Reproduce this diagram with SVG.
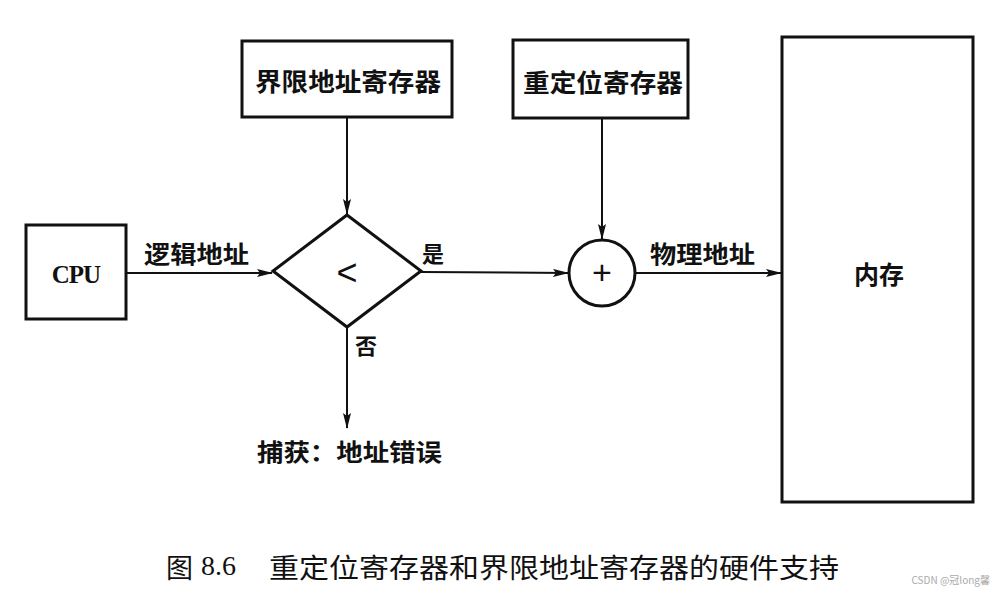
<svg xmlns="http://www.w3.org/2000/svg" width="1000" height="602" viewBox="0 0 1000 602">
<defs>
<style>
.box{fill:#fff;stroke:#111;stroke-width:3}
.ln{fill:none;stroke:#111;stroke-width:2}
.lbl{font-family:"Noto Sans CJK SC","Noto Sans",sans-serif;font-weight:bold;fill:#111;text-anchor:middle;dominant-baseline:central}
.sym{font-family:"Liberation Sans",sans-serif;fill:#111;text-anchor:middle;dominant-baseline:central}
.cap{font-family:"Noto Sans CJK SC","Noto Sans",sans-serif;fill:#111;dominant-baseline:central}
</style>
<marker id="arr" markerWidth="16" markerHeight="8" refX="15" refY="4" orient="auto" markerUnits="userSpaceOnUse">
<path d="M0,0 L16,4 L0,8 L3,4 Z" fill="#111"/>
</marker>
</defs>
<rect width="1000" height="602" fill="#fff"/>
<g id="connectors">
<line class="ln" x1="126" y1="273" x2="272" y2="273" marker-end="url(#arr)"/>
<line class="ln" x1="347" y1="117" x2="347" y2="214" marker-end="url(#arr)"/>
<line class="ln" x1="421" y1="272" x2="568" y2="273" marker-end="url(#arr)"/>
<line class="ln" x1="602" y1="118" x2="602" y2="239" marker-end="url(#arr)"/>
<line class="ln" x1="635" y1="273" x2="781" y2="273" marker-end="url(#arr)"/>
<line class="ln" x1="347" y1="327" x2="347" y2="428" marker-end="url(#arr)"/>
<text class="lbl" x="196.5" y="252" font-size="24" textLength="105" lengthAdjust="spacingAndGlyphs">逻辑地址</text>
<text class="lbl" x="433" y="252" font-size="22">是</text>
<text class="lbl" x="702.5" y="252" font-size="24" textLength="105" lengthAdjust="spacingAndGlyphs">物理地址</text>
<text class="lbl" x="366" y="344" font-size="22" font-weight="normal">否</text>
</g>
<g id="cpu">
<rect class="box" x="26" y="225" width="100" height="94"/>
<text x="76" y="274" font-family="'Liberation Serif',serif" font-weight="bold" font-size="25" text-anchor="middle" dominant-baseline="central" letter-spacing="-1" fill="#111">CPU</text>
</g>
<g id="limit-register">
<rect class="box" x="242" y="41" width="210" height="76"/>
<text class="lbl" x="348" y="80" font-size="25" textLength="186" lengthAdjust="spacingAndGlyphs">界限地址寄存器</text>
</g>
<g id="compare">
<polygon class="box" points="347,215 421,271 347,327 273,271"/>
<text class="sym" x="347" y="272" font-size="36">&lt;</text>
</g>
<g id="relocation-register">
<rect class="box" x="513" y="40" width="175" height="78"/>
<text class="lbl" x="603" y="81" font-size="25" textLength="160" lengthAdjust="spacingAndGlyphs">重定位寄存器</text>
</g>
<g id="adder">
<circle class="box" cx="602" cy="273" r="33"/>
<text class="sym" x="602" y="272" font-size="34">+</text>
</g>
<g id="memory">
<rect class="box" x="782" y="37" width="191" height="465"/>
<text class="lbl" x="879" y="273" font-size="25">内存</text>
</g>
<g id="trap">
<text class="lbl" x="349.5" y="450" font-size="24" textLength="185" lengthAdjust="spacingAndGlyphs">捕获：地址错误</text>
</g>
<g id="caption">
<text class="cap" x="166" y="566" font-size="27" textLength="27" lengthAdjust="spacingAndGlyphs">图</text>
<text x="201" y="566" font-family="'Liberation Serif',serif" font-size="27" dominant-baseline="central" fill="#111" textLength="35" lengthAdjust="spacingAndGlyphs">8.6</text>
<text class="cap" x="269" y="566" font-size="27" textLength="570" lengthAdjust="spacingAndGlyphs">重定位寄存器和界限地址寄存器的硬件支持</text>
</g>
<text x="990" y="584" font-family="'Noto Sans CJK SC','Noto Sans',sans-serif" font-size="10" fill="#aaa" text-anchor="end">CSDN @冠long馨</text>
</svg>
